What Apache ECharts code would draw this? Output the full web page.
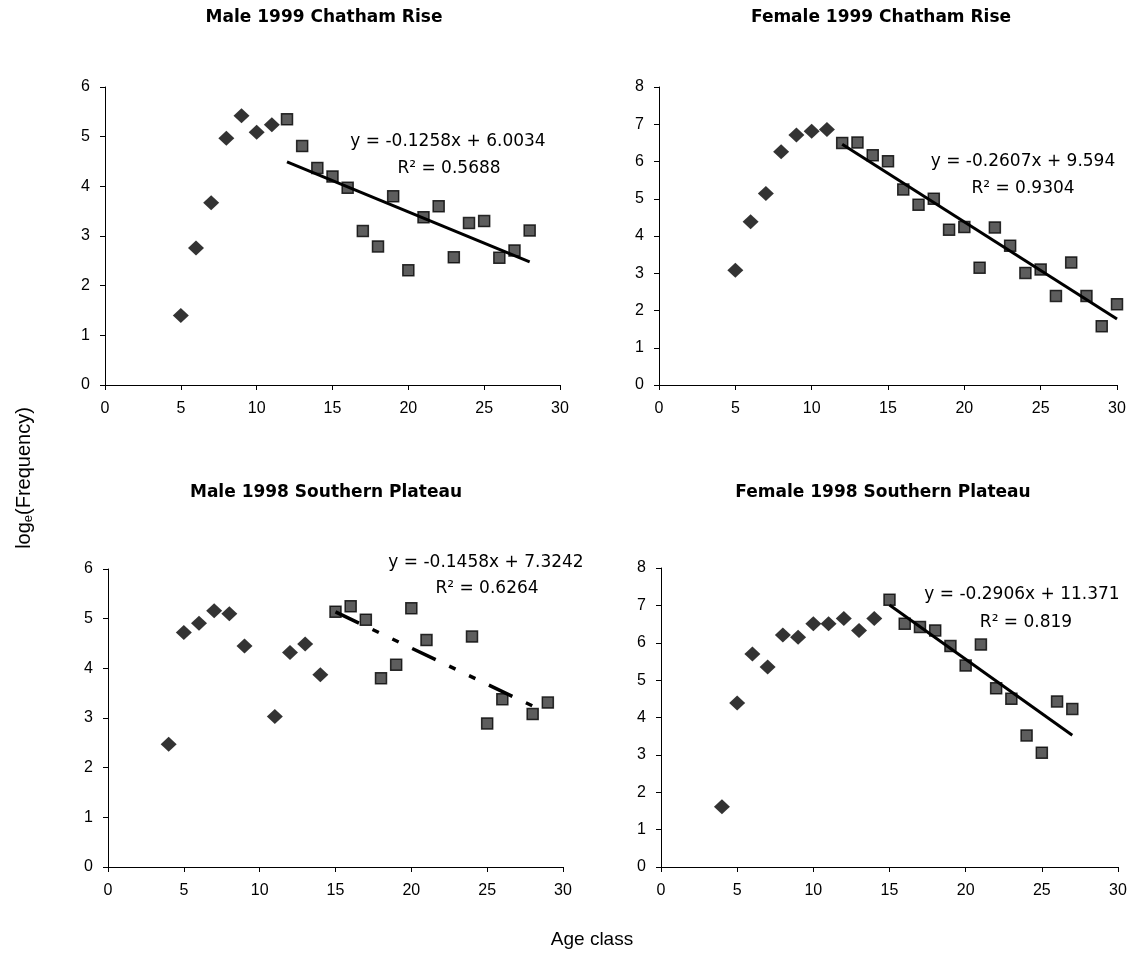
<!DOCTYPE html>
<html>
<head>
<meta charset="utf-8">
<script src="https://cdn.jsdelivr.net/npm/echarts@6.0.0/dist/echarts.min.js"></script>
<style>
html,body{margin:0;padding:0;background:#fff}
#main{width:1134px;height:954px}
</style>
</head>
<body>
<div id="main"></div>
<script>
// panel titles and y-axis tops
var titles = ['Male 1999 Chatham Rise', 'Female 1999 Chatham Rise', 'Male 1998 Southern Plateau', 'Female 1998 Southern Plateau'];
var yMax = [6, 8, 6, 8];

// rising limb (diamonds): age class / log frequency
var ageUp1 = [5, 6, 7, 8, 9, 10, 11];
var freqUp1 = [1.40, 2.76, 3.67, 4.97, 5.42, 5.09, 5.24];
var ageUp2 = [5, 6, 7, 8, 9, 10, 11];
var freqUp2 = [3.08, 4.38, 5.14, 6.26, 6.71, 6.81, 6.86];
var ageUp3 = [4, 5, 6, 7, 8, 9, 11, 12, 13, 14];
var freqUp3 = [2.47, 4.72, 4.91, 5.16, 5.10, 4.45, 3.03, 4.32, 4.49, 3.87];
var ageUp4 = [4, 5, 6, 7, 8, 9, 10, 11, 12, 13, 14];
var freqUp4 = [1.61, 4.39, 5.70, 5.35, 6.21, 6.15, 6.51, 6.51, 6.65, 6.33, 6.65];

// descending limb (squares) used in the regression
var ageDn1 = [12, 13, 14, 15, 16, 17, 18, 19, 20, 21, 22, 23, 24, 25, 26, 27, 28];
var freqDn1 = [5.35, 4.81, 4.37, 4.20, 3.97, 3.10, 2.79, 3.80, 2.31, 3.38, 3.60, 2.57, 3.26, 3.30, 2.56, 2.71, 3.11];
var ageDn2 = [12, 13, 14, 15, 16, 17, 18, 19, 20, 21, 22, 23, 24, 25, 26, 27, 28, 29, 30];
var freqDn2 = [6.50, 6.51, 6.17, 6.01, 5.25, 4.84, 5.00, 4.17, 4.24, 3.15, 4.23, 3.74, 3.01, 3.10, 2.39, 3.29, 2.39, 1.58, 2.17];
var ageDn3 = [15, 16, 17, 18, 19, 20, 21, 24, 25, 26, 28, 29];
var freqDn3 = [5.14, 5.25, 4.98, 3.80, 4.07, 5.21, 4.57, 4.64, 2.89, 3.38, 3.08, 3.31];
var ageDn4 = [15, 16, 17, 18, 19, 20, 21, 22, 23, 24, 25, 26, 27];
var freqDn4 = [7.15, 6.51, 6.42, 6.33, 5.91, 5.39, 5.95, 4.78, 4.50, 3.52, 3.06, 4.43, 4.23];

// fitted lines
var slope = [-0.1258, -0.2607, -0.1458, -0.2906];
var intercept = [6.0034, 9.594, 7.3242, 11.371];
var rSquared = ['0.5688', '0.9304', '0.6264', '0.819'];
var fitFrom = [12, 12, 15, 15];
var fitTo = [28, 30, 28, 27];

var ageUp = [ageUp1, ageUp2, ageUp3, ageUp4];
var freqUp = [freqUp1, freqUp2, freqUp3, freqUp4];
var ageDn = [ageDn1, ageDn2, ageDn3, ageDn4];
var freqDn = [freqDn1, freqDn2, freqDn3, freqDn4];

function pairs(xs, ys) {
  return xs.map(function (x, i) { return [x, ys[i]]; });
}

var grids = [
  { left: 105, top: 87, width: 455, height: 298 },
  { left: 659, top: 87, width: 458, height: 298 },
  { left: 108, top: 569, width: 455, height: 298 },
  { left: 661, top: 568, width: 457, height: 299 }
];
var titlePos = [[324, 18], [881, 18], [326, 493], [883, 493]];
var eqPos = [[448, 142], [1023, 162], [486, 563], [1022, 595]];
var r2Pos = [[449, 169], [1023, 189], [487, 589], [1026, 623]];

var tickFont = { color: '#000', fontSize: 16, fontFamily: 'Liberation Sans, Arial, sans-serif' };

var xAxis = [], yAxis = [], series = [], graphic = [];
for (var i = 0; i < 4; i++) {
  xAxis.push({
    gridIndex: i, type: 'value', min: 0, max: 30, interval: 5,
    axisLine: { lineStyle: { color: '#000', width: 1 } },
    axisTick: { inside: false, length: 5, lineStyle: { color: '#000' } },
    axisLabel: Object.assign({ margin: 16 }, tickFont),
    splitLine: { show: false }
  });
  yAxis.push({
    gridIndex: i, type: 'value', min: 0, max: yMax[i], interval: 1,
    axisLine: { show: true, lineStyle: { color: '#000', width: 1 } },
    axisTick: { show: true, inside: false, length: 5, lineStyle: { color: '#000' } },
    axisLabel: Object.assign({ margin: 15 }, tickFont),
    splitLine: { show: false }
  });
  series.push({
    type: 'scatter', xAxisIndex: i, yAxisIndex: i,
    symbol: 'diamond', symbolSize: [16, 15],
    itemStyle: { color: '#000' },
    data: pairs(ageUp[i], freqUp[i]), z: 3
  });
  series.push({
    type: 'scatter', xAxisIndex: i, yAxisIndex: i,
    symbol: 'rect', symbolSize: 11,
    itemStyle: { color: '#353535', borderColor: '#000', borderWidth: 1.5 },
    data: pairs(ageDn[i], freqDn[i]), z: 3
  });
  series.push({
    type: 'line', xAxisIndex: i, yAxisIndex: i,
    symbol: 'none', silent: true, z: 4,
    lineStyle: {
      color: '#000', width: i === 2 ? 3.5 : 3,
      type: i === 2 ? [26, 15, 7, 15, 7, 15] : 'solid'
    },
    data: [
      [fitFrom[i], slope[i] * fitFrom[i] + intercept[i]],
      [fitTo[i], slope[i] * fitTo[i] + intercept[i]]
    ]
  });
  graphic.push({
    type: 'text', x: titlePos[i][0], y: titlePos[i][1],
    style: {
      text: titles[i], fill: '#000', align: 'center', verticalAlign: 'middle',
      font: 'bold 17px "DejaVu Sans", sans-serif'
    }
  });
  graphic.push({
    type: 'text', x: eqPos[i][0], y: eqPos[i][1],
    style: {
      text: 'y = ' + slope[i] + 'x + ' + intercept[i], fill: '#000',
      align: 'center', verticalAlign: 'middle',
      font: '17px "DejaVu Sans", sans-serif'
    }
  });
  graphic.push({
    type: 'text', x: r2Pos[i][0], y: r2Pos[i][1],
    style: {
      text: 'R\u00b2 = ' + rSquared[i], fill: '#000',
      align: 'center', verticalAlign: 'middle',
      font: '17px "DejaVu Sans", sans-serif'
    }
  });
}

graphic.push({
  type: 'text', x: 592, y: 940,
  style: {
    text: 'Age class', fill: '#000', align: 'center', verticalAlign: 'middle',
    font: '19px "Liberation Sans", Arial, sans-serif'
  }
});
graphic.push({
  type: 'text', x: 24, y: 478, rotation: Math.PI / 2,
  style: {
    text: '{a|log}{b|e}{a|(Frequency)}',
    align: 'center', verticalAlign: 'middle',
    rich: {
      a: { fontSize: 20, fontFamily: 'Liberation Sans', color: '#000', lineHeight: 24 },
      b: { fontSize: 13, fontFamily: 'Liberation Sans', color: '#000', lineHeight: 24, padding: [9, 0, 0, 0] }
    }
  }
});

var chart = echarts.init(document.getElementById('main'));
chart.setOption({
  animation: false,
  backgroundColor: '#fff',
  grid: grids,
  xAxis: xAxis,
  yAxis: yAxis,
  series: series,
  graphic: graphic
});
</script>
</body>
</html>
